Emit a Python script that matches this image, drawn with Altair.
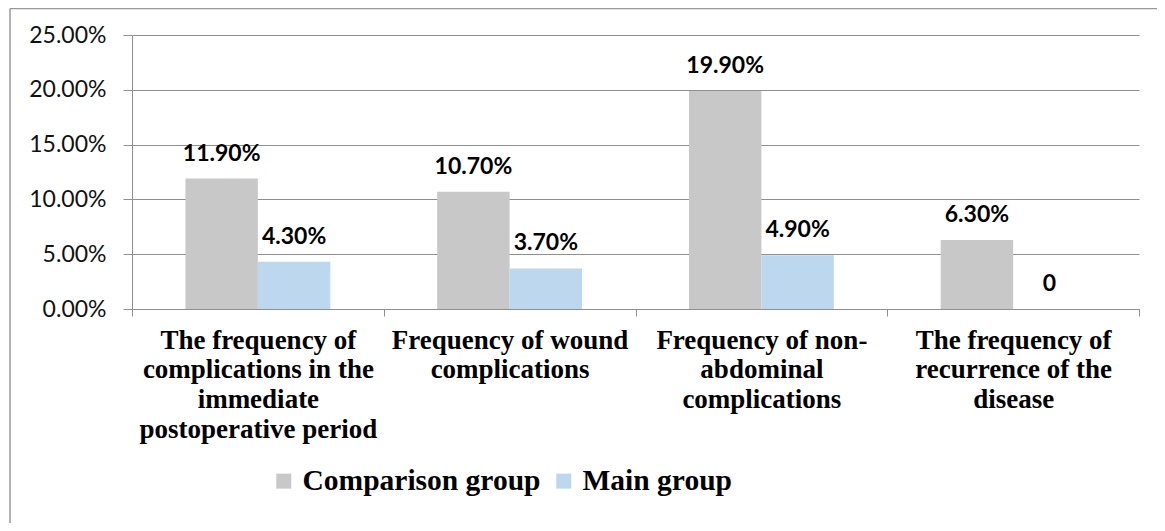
import altair as alt
import pandas as pd

# ---- data ----
category_lines = [
    ["The frequency of", "complications in the", "immediate", "postoperative period"],
    ["Frequency of wound", "complications"],
    ["Frequency of non-", "abdominal", "complications"],
    ["The frequency of", "recurrence of the", "disease"],
]
groups = ["Comparison group", "Main group"]
comparison_values = [0.119, 0.107, 0.199, 0.063]
main_values = [0.043, 0.037, 0.049, 0.0]
y_ticks = [0.0, 0.05, 0.10, 0.15, 0.20, 0.25]
colors = ["#C8C8C8", "#BDD7EE"]

categories = ["|".join(lines) for lines in category_lines]

rows = []
for cat, cv, mv in zip(categories, comparison_values, main_values):
    rows.append({"category": cat, "group": groups[0], "value": cv})
    rows.append({"category": cat, "group": groups[1], "value": mv})
df = pd.DataFrame(rows)

GRID = "#8f8f8f"

x_enc = alt.X(
    "category:N",
    sort=categories,
    scale=alt.Scale(paddingInner=0, paddingOuter=0),
    axis=alt.Axis(
        title=None,
        labelExpr="split(datum.label, '|')",
        labelAngle=0,
        labelFont="Liberation Serif",
        labelFontWeight="bold",
        labelFontSize=27,
        labelLineHeight=29.7,
        labelColor="#000000",
        labelLimit=400,
        labelPadding=11,
        tickBand="extent",
        tickSize=7,
        tickColor=GRID,
        domainColor=GRID,
        grid=False,
    ),
)
xoff_enc = alt.XOffset(
    "group:N", sort=groups, scale=alt.Scale(paddingInner=0, paddingOuter=0.738)
)
y_enc = alt.Y(
    "value:Q",
    scale=alt.Scale(domain=[0, 0.25], nice=False),
    axis=alt.Axis(
        title=None,
        values=y_ticks,
        format=".2%",
        labelFont="Lato",
        labelFontSize=23,
        labelColor="#111111",
        labelPadding=17,
        tickSize=9,
        tickColor=GRID,
        domainColor=GRID,
        grid=True,
        gridColor=GRID,
    ),
)

bars = alt.Chart(df).mark_bar().encode(
    x=x_enc,
    xOffset=xoff_enc,
    y=y_enc,
    color=alt.Color(
        "group:N",
        sort=groups,
        title=None,
        scale=alt.Scale(domain=groups, range=colors),
        legend=alt.Legend(
            orient="none",
            legendX=137,
            legendY=431,
            direction="horizontal",
            symbolType="square",
            symbolSize=225,
            symbolStrokeWidth=0,
            labelFont="Liberation Serif",
            labelFontWeight="bold",
            labelFontSize=29.5,
            labelColor="#000000",
            labelLimit=500,
            labelOffset=4,
            columnPadding=8,
            padding=0,
        ),
    ),
)

labels = (
    alt.Chart(df)
    .transform_calculate(
        lbl="datum.value == 0 ? '0' : format(datum.value, '.2%')"
    )
    .mark_text(
        dy=-18,
        baseline="alphabetic",
        font="Lato",
        fontWeight="bold",
        fontSize=23,
        color="#000000",
    )
    .encode(x=x_enc, xOffset=xoff_enc, y=y_enc, text="lbl:N")
)

frame_df = pd.DataFrame({"a": [0]})
frame_top = alt.Chart(frame_df).mark_rule(color="#999999", strokeWidth=1.5).encode(
    x=alt.value(-122), x2=alt.value(1030), y=alt.value(-26.5)
)
frame_left = alt.Chart(frame_df).mark_rule(color="#999999", strokeWidth=1.5).encode(
    x=alt.value(-122), y=alt.value(-26.5), y2=alt.value(490)
)

chart = (
    alt.layer(frame_top, frame_left, bars, labels)
    .properties(
        width=1007,
        height=274,
        padding={"left": 124, "top": 27, "right": 18, "bottom": 214},
        autosize=alt.AutoSizeParams(type="none"),
    )
    .configure_view(stroke=None)
)

chart.save("out.html", embed_options={"renderer": "svg", "actions": False})
